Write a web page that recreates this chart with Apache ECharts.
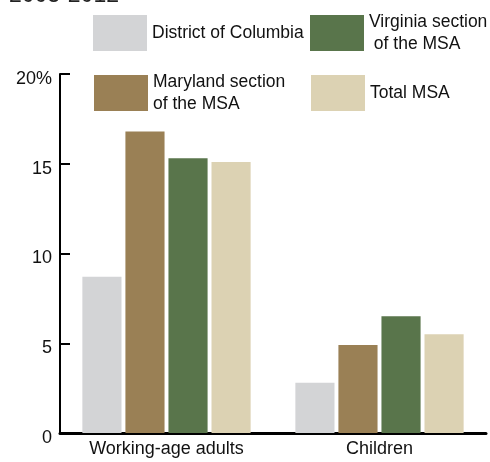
<!DOCTYPE html>
<html>
<head>
<meta charset="utf-8">
<script src="https://cdn.jsdelivr.net/npm/echarts@6/dist/echarts.min.js"></script>
<style>
html,body{margin:0;padding:0;background:#fff;}
#chart{width:490px;height:462px;}
</style>
</head>
<body>
<div id="chart"></div>
<script>
var categories = ['Working-age adults', 'Children'];
var seriesNames = ['District of Columbia', 'Maryland section of the MSA', 'Virginia section of the MSA', 'Total MSA'];
var dcValues = [8.7, 2.8];
var marylandValues = [16.8, 4.9];
var virginiaValues = [15.3, 6.5];
var totalValues = [15.1, 5.5];
var yTicks = [0, 5, 10, 15, 20];
var titleText = '2003-2012';

var FONT = '"Liberation Sans Narrow", "Liberation Sans", Arial, sans-serif';
var colors = ['#d3d4d6', '#9a8055', '#59754b', '#dcd2b3'];
var legendLabels = {
  'District of Columbia': 'District of Columbia',
  'Maryland section of the MSA': 'Maryland section\nof the MSA',
  'Virginia section of the MSA': 'Virginia section\n of the MSA',
  'Total MSA': 'Total MSA'
};
var legendPos = [
  {left: 93, top: 15},
  {left: 94, top: 71},
  {left: 310, top: 11},
  {left: 311, top: 75}
];
var values = [dcValues, marylandValues, virginiaValues, totalValues];

var chart = echarts.init(document.getElementById('chart'), null, {renderer: 'canvas'});
var option = {
  animation: false,
  backgroundColor: '#fff',
  title: {
    text: titleText,
    left: 9,
    top: -16,
    padding: 0,
    textStyle: {fontFamily: FONT, fontSize: 23, fontWeight: 'normal', color: '#222'}
  },
  legend: seriesNames.map(function (n, i) {
    return {
      data: [n],
      left: legendPos[i].left,
      top: legendPos[i].top,
      padding: 0,
      icon: 'rect',
      itemWidth: 54,
      itemHeight: 36,
      selectedMode: false,
      formatter: function (name) { return legendLabels[name]; },
      textStyle: {fontFamily: FONT, fontSize: 17.5, lineHeight: 22, color: '#111'}
    };
  }),
  grid: {left: 60, right: 4, top: 74, bottom: 29, containLabel: false},
  xAxis: {
    type: 'category',
    data: categories,
    axisLine: {lineStyle: {color: '#000', width: 3}},
    axisTick: {show: false},
    axisLabel: {fontFamily: FONT, fontSize: 18, color: '#111', margin: 7}
  },
  yAxis: {
    type: 'value',
    min: 0,
    max: 20,
    interval: 5,
    axisLine: {show: true, lineStyle: {color: '#000', width: 2}},
    axisTick: {show: true, inside: true, length: 10, lineStyle: {color: '#000', width: 2}},
    splitLine: {show: false},
    axisLabel: {
      fontFamily: FONT, fontSize: 18, color: '#111', margin: 8,
      verticalAlign: 'top',
      lineHeight: 10,
      formatter: function (v) { return v === 20 ? '20%' : String(v); }
    }
  },
  series: seriesNames.map(function (n, i) {
    return {
      name: n,
      type: 'bar',
      data: values[i],
      barGap: '10%',
      barCategoryGap: '21%',
      itemStyle: {color: colors[i]}
    };
  })
};
chart.setOption(option);
</script>
</body>
</html>
